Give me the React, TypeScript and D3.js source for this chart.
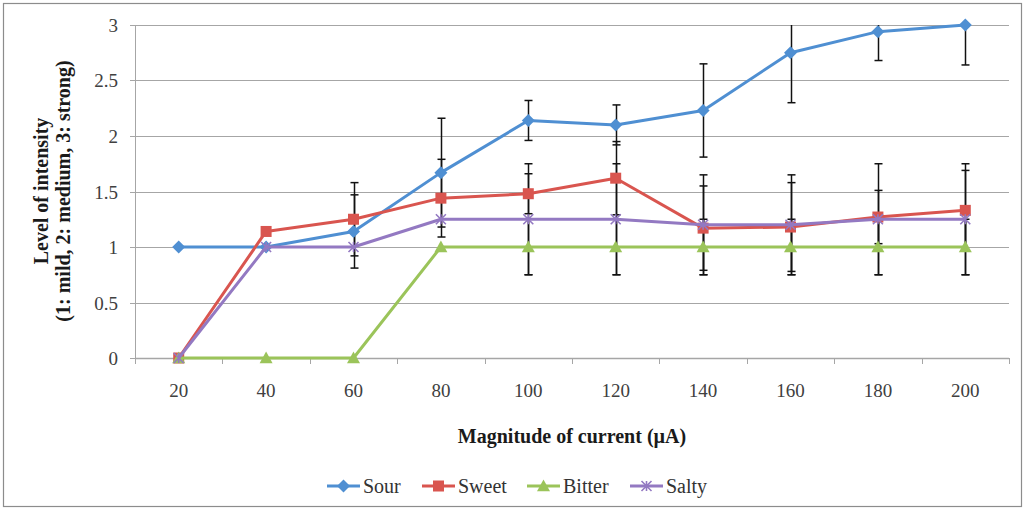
import React, { useEffect, useRef } from "react";
import * as d3 from "d3";

// Stimulation current levels (µA)
const currents = ["20", "40", "60", "80", "100", "120", "140", "160", "180", "200"];

// Mean perceived intensity per taste
const sour = [1, 1, 1.14, 1.67, 2.14, 2.1, 2.23, 2.75, 2.94, 3.0];
const sweet = [0, 1.14, 1.25, 1.44, 1.48, 1.62, 1.17, 1.18, 1.27, 1.33];
const bitter = [0, 0, 0, 1, 1, 1, 1, 1, 1, 1];
const salty = [0, 1, 1, 1.25, 1.25, 1.25, 1.2, 1.2, 1.25, 1.25];

// Error bar half-widths
const sourErr = [0, 0, 0.33, 0.49, 0.18, 0.18, 0.42, 0.45, 0.26, 0.36];
const sweetErr = [0, 0, 0.33, 0.35, 0.18, 0.33, 0.38, 0.4, 0.24, 0.36];
const bitterErr = [0, 0, 0, 0, 0.25, 0.25, 0.25, 0.25, 0.25, 0.25];
const saltyErr = [0, 0, 0, 0, 0.5, 0.5, 0.45, 0.45, 0.5, 0.5];

const yTicks = [0, 0.5, 1, 1.5, 2, 2.5, 3];

type Marker = "diamond" | "square" | "triangle" | "cross";
const seriesList: { name: string; values: number[]; err: number[]; color: string; marker: Marker }[] = [
  { name: "Sour", values: sour, err: sourErr, color: "#4F8FD2", marker: "diamond" },
  { name: "Sweet", values: sweet, err: sweetErr, color: "#D9554F", marker: "square" },
  { name: "Bitter", values: bitter, err: bitterErr, color: "#9BC45A", marker: "triangle" },
  { name: "Salty", values: salty, err: saltyErr, color: "#9379C2", marker: "cross" },
];

const W = 1027;
const H = 510;
const margin = { left: 135, right: 1009, top: 25, bottom: 358 };
const FONT = '"Liberation Serif", "DejaVu Serif", "Times New Roman", serif';

function drawMarker(g: d3.Selection<SVGGElement, unknown, null, undefined>, type: Marker, x: number, y: number, color: string) {
  if (type === "diamond") {
    const s = 6.5;
    g.append("path").attr("d", `M${x},${y - s}L${x + s},${y}L${x},${y + s}L${x - s},${y}Z`).attr("fill", color);
  } else if (type === "square") {
    const s = 5.5;
    g.append("rect").attr("x", x - s).attr("y", y - s).attr("width", 2 * s).attr("height", 2 * s).attr("fill", color);
  } else if (type === "triangle") {
    const s = 6.5;
    g.append("path").attr("d", `M${x},${y - s}L${x + s},${y + s * 0.8}L${x - s},${y + s * 0.8}Z`).attr("fill", color);
  } else {
    const s = 5;
    g.append("path")
      .attr("d", `M${x - s},${y - s}L${x + s},${y + s}M${x - s},${y + s}L${x + s},${y - s}M${x},${y - s}L${x},${y + s}`)
      .attr("stroke", color)
      .attr("stroke-width", 1.6)
      .attr("fill", "none");
  }
}

export default function App() {
  const ref = useRef<SVGSVGElement>(null);

  useEffect(() => {
    const svg = d3.select(ref.current!);
    svg.selectAll("*").remove();

    const x = d3.scaleBand().domain(currents).range([margin.left, margin.right]);
    const y = d3.scaleLinear().domain([0, 3]).range([margin.bottom, margin.top]);
    const cx = (c: string) => (x(c) ?? 0) + x.bandwidth() / 2;

    // Frame
    svg.append("rect").attr("x", 0).attr("y", 0).attr("width", W).attr("height", H).attr("fill", "#fff");
    svg.append("rect").attr("x", 3.5).attr("y", 3.5).attr("width", 1018).attr("height", 503)
      .attr("fill", "#fff").attr("stroke", "#8c8c8c").attr("stroke-width", 1.2);

    // Horizontal grid
    svg.append("g").selectAll("line").data(yTicks.filter((t) => t > 0)).join("line")
      .attr("x1", margin.left).attr("x2", margin.right)
      .attr("y1", (d) => Math.round(y(d)) + 0.5).attr("y2", (d) => Math.round(y(d)) + 0.5)
      .attr("stroke", "#a6a6a6").attr("stroke-width", 1);

    // Y axis
    const yAxis = svg.append("g");
    yAxis.append("line").attr("x1", margin.left + 0.5).attr("x2", margin.left + 0.5)
      .attr("y1", margin.top).attr("y2", margin.bottom).attr("stroke", "#a6a6a6");
    yTicks.forEach((t) => {
      const yy = Math.round(y(t)) + 0.5;
      yAxis.append("line").attr("x1", margin.left - 5).attr("x2", margin.left).attr("y1", yy).attr("y2", yy).attr("stroke", "#a6a6a6");
      yAxis.append("text").attr("x", 118).attr("y", yy).attr("dy", "0.35em").attr("text-anchor", "end")
        .style("font-family", FONT).attr("font-size", 19).attr("fill", "#404040").text(String(t));
    });

    // X axis
    const xAxis = svg.append("g");
    xAxis.append("line").attr("x1", margin.left).attr("x2", margin.right)
      .attr("y1", margin.bottom + 0.5).attr("y2", margin.bottom + 0.5).attr("stroke", "#a6a6a6").attr("stroke-width", 1.5);
    const bounds = currents.map((c) => x(c) ?? 0).concat([margin.right]);
    bounds.forEach((b) => {
      const xx = Math.round(b) + 0.5;
      xAxis.append("line").attr("x1", xx).attr("x2", xx).attr("y1", margin.bottom).attr("y2", margin.bottom + 6).attr("stroke", "#a6a6a6");
    });
    currents.forEach((c) => {
      xAxis.append("text").attr("x", cx(c)).attr("y", 397).attr("text-anchor", "middle")
        .style("font-family", FONT).attr("font-size", 19).attr("fill", "#404040").text(c);
    });

    // Axis titles
    svg.append("text").attr("x", 572).attr("y", 443).attr("text-anchor", "middle")
      .style("font-family", FONT).attr("font-size", 20).attr("font-weight", "bold").attr("fill", "#1a1a1a")
      .text("Magnitude of current (µA)");
    const yt = svg.append("text").attr("transform", "translate(0,191) rotate(-90)")
      .attr("text-anchor", "middle").style("font-family", FONT).attr("font-size", 20)
      .attr("font-weight", "bold").attr("fill", "#1a1a1a");
    yt.append("tspan").attr("x", 0).attr("y", 48).text("Level of intensity");
    yt.append("tspan").attr("x", 0).attr("y", 70).text("(1: mild, 2: medium, 3: strong)");

    // Error bars
    const eb = svg.append("g");
    seriesList.forEach((s) => {
      s.values.forEach((v, i) => {
        const e = s.err[i];
        if (!e) return;
        const xx = Math.round(cx(currents[i])) + 0.5;
        const hi = Math.min(3, v + e);
        const lo = Math.max(0, v - e);
        eb.append("line").attr("x1", xx).attr("x2", xx).attr("y1", y(hi)).attr("y2", y(lo)).attr("stroke", "#111").attr("stroke-width", 1.5);
        if (v + e <= 3) eb.append("line").attr("x1", xx - 4).attr("x2", xx + 4).attr("y1", y(hi)).attr("y2", y(hi)).attr("stroke", "#111").attr("stroke-width", 1.5);
        eb.append("line").attr("x1", xx - 4).attr("x2", xx + 4).attr("y1", y(lo)).attr("y2", y(lo)).attr("stroke", "#111").attr("stroke-width", 1.5);
      });
    });

    // Series lines and markers
    const line = d3.line<number>().x((_, i) => cx(currents[i])).y((d) => y(d));
    seriesList.forEach((s) => {
      const g = svg.append("g");
      g.append("path").attr("d", line(s.values)).attr("fill", "none").attr("stroke", s.color)
        .attr("stroke-width", 3).attr("stroke-linejoin", "round");
      s.values.forEach((v, i) => drawMarker(g, s.marker, cx(currents[i]), y(v), s.color));
    });

    // Legend
    const legendX = [327, 422, 527, 630];
    const legendY = 486;
    seriesList.forEach((s, i) => {
      const g = svg.append("g");
      const x0 = legendX[i];
      g.append("line").attr("x1", x0).attr("x2", x0 + 33).attr("y1", legendY).attr("y2", legendY)
        .attr("stroke", s.color).attr("stroke-width", 3);
      drawMarker(g, s.marker, x0 + 16.5, legendY, s.color);
      g.append("text").attr("x", x0 + 36).attr("y", legendY).attr("dy", "0.35em")
        .style("font-family", FONT).attr("font-size", 20).attr("fill", "#333").text(s.name);
    });
  }, []);

  return (
    <svg ref={ref} width={W} height={H} style={{ position: "absolute", left: 0, top: 0, display: "block" }} />
  );
}
